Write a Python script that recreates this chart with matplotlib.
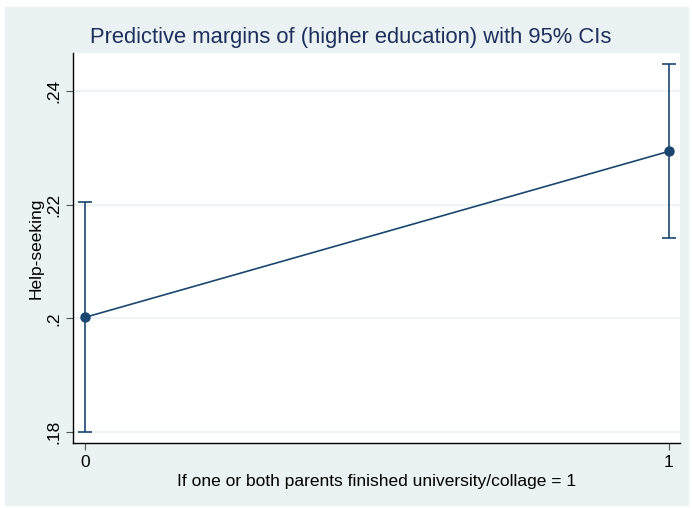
import matplotlib.pyplot as plt
from matplotlib.patches import Rectangle

plt.rcParams['font.family'] = ['Liberation Sans', 'DejaVu Sans']

# predictive margins by parental higher education
levels = [0, 1]
margin = [0.2002, 0.2294]
ci_low = [0.1800, 0.2142]
ci_high = [0.2205, 0.2448]
yticks = [0.18, 0.20, 0.22, 0.24]
ylabels = ['.18', '.2', '.22', '.24']

navy = '#1a476f'
title_col = '#1f2f5c'
bg = '#eaf2f3'

fig = plt.figure(figsize=(6.92, 5.08), dpi=100)
fig.patches.append(Rectangle((5 / 692, 3 / 508), 683 / 692, 498 / 508,
                             transform=fig.transFigure, color=bg, zorder=-1))
ax = fig.add_axes([73 / 692, 65 / 508, 607 / 692, 390 / 508])
ax.set_facecolor('white')

err_lo = [m - l for m, l in zip(margin, ci_low)]
err_hi = [h - m for m, h in zip(margin, ci_high)]
ax.errorbar(levels, margin, yerr=[err_lo, err_hi], color=navy, lw=1.2,
            marker='o', ms=6.5, capsize=5, capthick=1.2, zorder=3)

ax.set_xlim(-0.0205, 1.019)
ax.set_ylim(0.1781, 0.2467)
ax.set_xticks(levels)
ax.set_yticks(yticks)
ax.set_yticklabels(ylabels, rotation=90, va='center')
ax.grid(axis='y', color=bg, lw=1.2)
ax.set_axisbelow(True)
for s in ['top', 'right']:
    ax.spines[s].set_visible(False)
ax.spines['left'].set_linewidth(1.0)
ax.spines['bottom'].set_linewidth(1.0)
ax.tick_params(axis='both', labelsize=12.5, length=5, color='#555555')

ax.set_xlabel('If one or both parents finished university/collage = 1',
              fontsize=12.5, labelpad=3)
ax.set_ylabel('Help-seeking', fontsize=12.5, labelpad=2)
fig.text(351 / 692, 1 - 38 / 508,
         'Predictive margins of (higher education) with 95% CIs',
         fontsize=15.8, color=title_col, ha='center', va='center')

fig.savefig('out.png', dpi=100)
